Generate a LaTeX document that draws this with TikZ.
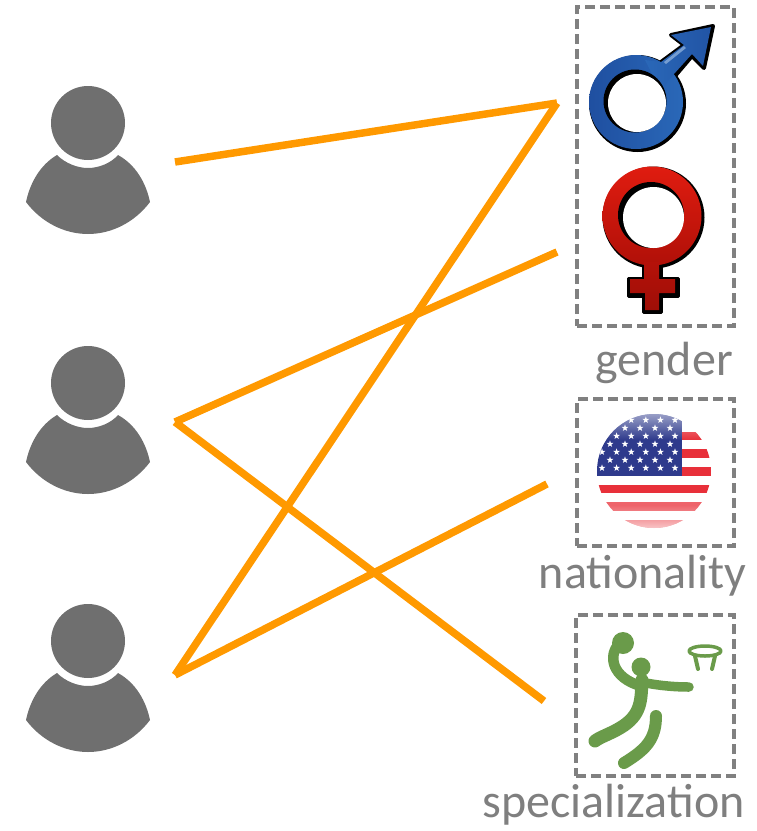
\documentclass[tikz,border=0pt]{standalone}
\usepackage{fontspec}
\setmainfont{Carlito}
\usetikzlibrary{fadings}
\definecolor{personc}{HTML}{6F6F6F}
\definecolor{linkc}{HTML}{FF9900}
\definecolor{boxc}{HTML}{808080}
\definecolor{textc}{HTML}{7F7F7F}
\definecolor{sportc}{HTML}{6A9B4A}
\definecolor{bluec}{HTML}{2A68B8}
\definecolor{blued}{HTML}{1F4FA0}
\definecolor{redc}{HTML}{E01C10}
\definecolor{redd}{HTML}{B01008}
\definecolor{flagb}{HTML}{2E3A8C}
\definecolor{flagr}{HTML}{E8303A}
\newcommand{\flagstar}[2]{\fill[white] (#1,#2) +(0,-3.6) -- +(0.85,-1.15) -- +(3.4,-1.1) -- +(1.35,0.45) -- +(2.1,2.9) -- +(0,1.45) -- +(-2.1,2.9) -- +(-1.35,0.45) -- +(-3.4,-1.1) -- +(-0.85,-1.15) -- cycle;}
\tikzset{
  link/.style={draw=linkc,line width=7.5pt,line cap=butt},
  dashbox/.style={draw=boxc,line width=3.4pt,dash pattern=on 10pt off 5pt},
  caption/.style={text=textc,font=\fontsize{48}{48}\selectfont,inner sep=0pt,anchor=base east},
  stroke/.style={draw=sportc,line cap=round,line join=round},
  person/.pic={
    \fill[personc] (0,0) circle (37);
    \fill[personc] (-31,32) .. controls (-23,40) and (-11,45) .. (0,45)
      .. controls (11,45) and (23,40) .. (30,32)
      .. controls (48,42) and (58,60) .. (62,79)
      .. controls (47,99) and (24,111) .. (0,111)
      .. controls (-24,111) and (-47,99) .. (-62,79)
      .. controls (-58,60) and (-48,42) .. (-31,32) -- cycle;
  }
}
\begin{document}
\begin{tikzpicture}[x=1pt,y=-1pt]
\useasboundingbox (0,0) rectangle (756,831);
% persons
\pic at (88,123) {person};
\pic at (88,383) {person};
\pic at (88,641) {person};
% connector ends
\coordinate (u1) at (175,162);
\coordinate (u2) at (175,422);
\coordinate (u3) at (175,675);
\coordinate (male) at (557,103);
\coordinate (female) at (557,252);
\coordinate (nation) at (547,484);
\coordinate (sport) at (544,701);
\draw[link] (u1) -- (male);
\draw[link] (male) -- (u3);
\draw[link] (u3) -- (nation);
\draw[link] (u2) -- (female);
\draw[link] (u2) -- (sport);
% boxes
\node[dashbox,minimum width=157pt,minimum height=319pt,inner sep=0pt] (boxg) at (655.5,166.5) {};
\node[dashbox,minimum width=157pt,minimum height=147pt,inner sep=0pt] (boxn) at (655.5,472.5) {};
\node[dashbox,minimum width=158pt,minimum height=161pt,inner sep=0pt] (boxs) at (655,695.5) {};
% captions
\node[caption] (capg) at (733,375) {gender};
\node[caption] (capn) at (747,588) {nationality};
\node[caption] (caps) at (745,817) {specialization};
% male symbol
\fill[black,line join=round,draw=black,line width=4pt] (661,62) -- (684,45) -- (671,35) -- (713,26) -- (704,68) -- (692,56) -- (675,76) -- cycle;
\fill[black] (637.5,103.5) circle (48.5);
\shade[left color=blued,right color=bluec] (636,102) circle (47);
\shade[left color=bluec,right color=blued!80!bluec,line join=round] (661,62) -- (684,45) -- (671,35) -- (711,27) -- (703,66) -- (692,54) -- (674,74) -- (660,90) -- (645,60) -- cycle;
\fill[bluec!65!white] (664,62) -- (684,46) -- (686,48) -- (666,64) -- cycle;
\fill[black] (635,101) circle (31.5);
\fill[white] (637,103) circle (29);
% female symbol
\fill[black,draw=black,line width=3pt,line join=round] (643,265) -- (661,265) -- (661,278) -- (678,278) -- (678,296) -- (661,296) -- (661,312) -- (643,312) -- (643,296) -- (628,296) -- (628,278) -- (643,278) -- cycle;
\fill[black] (653.5,217.5) circle (51);
\shade[top color=redc,bottom color=redd] (652,216) circle (49.5);
\shade[top color=redd!90!redc,bottom color=redd!90!black] (644,262) -- (659,262) -- (659,279) -- (675,279) -- (675,293) -- (659,293) -- (659,310) -- (645,310) -- (645,293) -- (630,293) -- (630,279) -- (644,279) -- cycle;
\fill[black] (651,215) circle (33);
\fill[white] (653.5,217.5) circle (30.5);
% flag
\begin{scope}
\clip (654,471) circle (57);
\fill[white] (590,410) rectangle (716,532);
\fill[flagr] (682,432) rectangle (716,440);
\fill[flagr] (682,449) rectangle (716,458);
\fill[flagr] (682,467) rectangle (716,476);
\fill[flagr] (590,485) rectangle (716,493);
\fill[flagr!75!white] (590,502) rectangle (716,511);
\fill[flagr!80!white] (590,520) rectangle (716,532);
\fill[flagb] (590,410) rectangle (682,476);
\foreach \ri in {0,2,4,6}{\foreach \ci in {0,...,5}{\flagstar{602+\ci*14.6}{468-\ri*8}}}
\foreach \ri in {1,3,5}{\foreach \ci in {0,...,4}{\flagstar{610+\ci*15}{468-\ri*8}}}
\fill[white,path fading=south,opacity=0.55] (600,412) rectangle (706,440);
\fill[white,path fading=north,opacity=0.7] (590,505) rectangle (716,530);
\end{scope}
% basketball player
\fill[sportc] (641,667) circle (9.5);
\fill[sportc] (623,643) circle (11);
\draw[stroke,line width=10.5pt] (620,643) .. controls (607,655) and (612,678) .. (641,686);
\draw[stroke,line width=9.5pt] (641,682) .. controls (655,685) and (672,687) .. (689,687);
\draw[stroke,line width=13pt] (642,680) .. controls (641,700) and (642,715) .. (620,728) .. controls (610,734) and (600,737) .. (595,741);
\draw[stroke,line width=12pt] (656,716) .. controls (656,740) and (645,750) .. (624,763);
\draw[stroke,line width=3.5pt] (705,651) ellipse (16 and 5);
\draw[stroke,line width=4pt] (695,656) -- (698,669);
\draw[stroke,line width=4pt] (715,656) -- (712,669);
\end{tikzpicture}
\end{document}
